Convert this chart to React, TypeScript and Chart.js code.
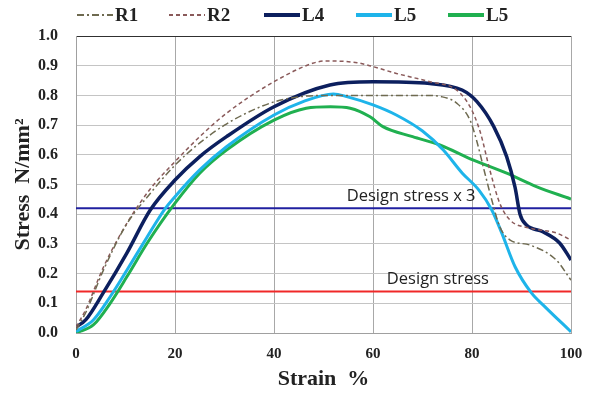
import React, { useEffect, useRef } from "react";
import { Chart, registerables } from "chart.js";

Chart.register(...registerables);

const legendLabels = ["R1", "R2", "L4", "L5", "L5"];

const strainR1 = [0, 2, 5.5, 10, 15, 20, 25, 30, 35, 40, 45, 50, 60, 70, 74, 76.9, 79.6, 80.9, 82.6, 84, 85.6, 87.7, 91.7, 97, 100];
const stressR1 = [0.01, 0.07, 0.21, 0.36, 0.47, 0.565, 0.64, 0.7, 0.745, 0.778, 0.795, 0.8, 0.8, 0.8, 0.795, 0.774, 0.717, 0.65, 0.538, 0.448, 0.358, 0.313, 0.296, 0.246, 0.178];

const strainR2 = [0, 2, 5.5, 10.3, 15, 20, 25, 30.4, 40, 47.8, 50.4, 56.8, 60, 64.7, 71.5, 76.9, 79.6, 81.6, 83.6, 85.6, 87.7, 91.7, 97, 100];
const stressR2 = [0.02, 0.08, 0.22, 0.37, 0.485, 0.577, 0.661, 0.74, 0.846, 0.908, 0.916, 0.91, 0.897, 0.874, 0.846, 0.818, 0.762, 0.68, 0.549, 0.437, 0.38, 0.353, 0.337, 0.313];

const strainL4 = [0, 2, 5.5, 10.3, 15, 20, 25, 30.4, 40, 51.3, 60, 71.5, 78, 81, 84.4, 87, 88.7, 89.7, 91, 94.3, 97.7, 100];
const stressL4 = [0.02, 0.045, 0.135, 0.27, 0.414, 0.515, 0.594, 0.661, 0.762, 0.835, 0.846, 0.84, 0.818, 0.779, 0.695, 0.594, 0.49, 0.4, 0.364, 0.341, 0.303, 0.246];

const strainL5a = [0, 3.5, 6.9, 10.3, 14.4, 17.8, 20, 25, 30.4, 40, 46, 52, 54.7, 60, 64.7, 70, 74.2, 78, 81.4, 84, 86, 88.7, 92, 94.7, 100];
const stressL5a = [0.005, 0.044, 0.122, 0.212, 0.324, 0.414, 0.459, 0.549, 0.627, 0.734, 0.78, 0.805, 0.796, 0.768, 0.734, 0.68, 0.616, 0.539, 0.481, 0.414, 0.337, 0.223, 0.135, 0.089, 0.004];

const strainL5b = [0, 3.5, 6.9, 10.3, 14.4, 20, 25, 30.4, 40, 46.5, 51.4, 55.4, 59.4, 62, 68, 73.5, 80.3, 87, 93, 100];
const stressL5b = [0, 0.027, 0.1, 0.19, 0.303, 0.437, 0.538, 0.616, 0.717, 0.757, 0.762, 0.757, 0.728, 0.695, 0.661, 0.633, 0.582, 0.538, 0.493, 0.451];

const designStress = 0.14;
const designStress3 = 0.42;
const refStrain = [0, 100];
const refLabels = ["Design stress x 3", "Design stress"];
const refLabelStrain = [54.7, 62.8];

const zip = (xs: number[], ys: number[]) => xs.map((x, i) => ({ x, y: ys[i] }));

const SERIF = "'Liberation Serif', 'Times New Roman', serif";

const refLabelPlugin = {
  id: "refLabels",
  afterDatasetsDraw(chart: any) {
    const { ctx, scales } = chart;
    ctx.save();
    ctx.font = "16.5px 'Open Sans', sans-serif";
    ctx.fillStyle = "#222";
    ctx.textBaseline = "alphabetic";
    ctx.textAlign = "left";
    ctx.fillText(refLabels[0], scales.x.getPixelForValue(refLabelStrain[0]), scales.y.getPixelForValue(designStress3) - 7);
    ctx.fillText(refLabels[1], scales.x.getPixelForValue(refLabelStrain[1]), scales.y.getPixelForValue(designStress) - 7);
    ctx.restore();
  },
};

const legendStarts = [77, 169, 264, 356, 448];
const customLegend = {
  id: "customLegend",
  afterDraw(chart: any) {
    const { ctx } = chart;
    const ds = chart.data.datasets;
    ctx.save();
    ctx.font = `bold 19px ${SERIF}`;
    ctx.textBaseline = "middle";
    ctx.textAlign = "left";
    const y = 15;
    for (let i = 0; i < legendLabels.length; i++) {
      const d = ds[i];
      const x0 = legendStarts[i];
      ctx.beginPath();
      ctx.setLineDash(d.borderDash || []);
      ctx.lineWidth = d.borderWidth >= 3 ? 4 : 2;
      ctx.strokeStyle = d.borderColor;
      ctx.moveTo(x0, y);
      ctx.lineTo(x0 + 36, y);
      ctx.stroke();
      ctx.setLineDash([]);
      ctx.fillStyle = "#222";
      ctx.fillText(legendLabels[i], x0 + 38, y + 1);
    }
    ctx.restore();
  },
};

export default function App() {
  const ref = useRef<HTMLCanvasElement>(null);
  useEffect(() => {
    document.body.style.margin = "0";
    const chart = new Chart(ref.current as HTMLCanvasElement, {
      type: "line",
      data: {
        datasets: [
          { label: legendLabels[0], data: zip(strainR1, stressR1), borderColor: "#6e6a50", backgroundColor: "#6e6a50", borderWidth: 1.5, borderDash: [7, 3, 2, 3], pointRadius: 0, cubicInterpolationMode: "monotone" },
          { label: legendLabels[1], data: zip(strainR2, stressR2), borderColor: "#8a5a5a", backgroundColor: "#8a5a5a", borderWidth: 1.5, borderDash: [4, 3], pointRadius: 0, cubicInterpolationMode: "monotone" },
          { label: legendLabels[2], data: zip(strainL4, stressL4), borderColor: "#0c1f5e", backgroundColor: "#0c1f5e", borderWidth: 3.5, pointRadius: 0, cubicInterpolationMode: "monotone" },
          { label: legendLabels[3], data: zip(strainL5a, stressL5a), borderColor: "#1eb4ea", backgroundColor: "#1eb4ea", borderWidth: 3, pointRadius: 0, cubicInterpolationMode: "monotone" },
          { label: legendLabels[4], data: zip(strainL5b, stressL5b), borderColor: "#20b050", backgroundColor: "#20b050", borderWidth: 3, pointRadius: 0, cubicInterpolationMode: "monotone" },
          { label: "ref3", data: refStrain.map((x) => ({ x, y: designStress3 })), borderColor: "#2020a0", borderWidth: 2, pointRadius: 0 },
          { label: "ref1", data: refStrain.map((x) => ({ x, y: designStress })), borderColor: "#f02828", borderWidth: 2, pointRadius: 0 },
        ],
      },
      options: {
        animation: false,
        responsive: false,
        layout: { padding: { left: 0, right: 29, top: 36, bottom: 0 } },
        plugins: {
          tooltip: { enabled: false },
          legend: { display: false },
        },
        scales: {
          x: {
            type: "linear",
            min: 0,
            max: 100,
            ticks: { stepSize: 20, color: "#222", font: { family: SERIF, size: 15, weight: "bold" }, padding: 12 },
            grid: { color: "#a8a8a8", drawTicks: false },
            border: { color: "#a0a0a0" },
            title: { display: true, text: "Strain  %", color: "#222", font: { family: SERIF, size: 22, weight: "bold" }, padding: { top: 0, bottom: 4 } },
            afterFit: (s: any) => { s.height = 64; },
          },
          y: {
            min: 0,
            max: 1,
            ticks: { stepSize: 0.1, color: "#222", font: { family: SERIF, size: 16, weight: "bold" }, padding: 18, callback: (v: any) => Number(v).toFixed(1) },
            grid: { color: (c: any) => (c.tick && c.tick.value === 1 ? "#303030" : "#c4c4c4"), drawTicks: false },
            border: { color: "#a0a0a0" },
            title: { display: true, text: "Stress  N/mm²", color: "#222", font: { family: SERIF, size: 22, weight: "bold" }, padding: { top: 10, bottom: 0 } },
            afterFit: (s: any) => { s.width = 76; },
          },
        },
      },
      plugins: [refLabelPlugin, customLegend],
    } as any);
    return () => chart.destroy();
  }, []);
  return (
    <div style={{ width: 600, height: 397, background: "#fff" }}>
      <canvas ref={ref} width={600} height={397} />
    </div>
  );
}
